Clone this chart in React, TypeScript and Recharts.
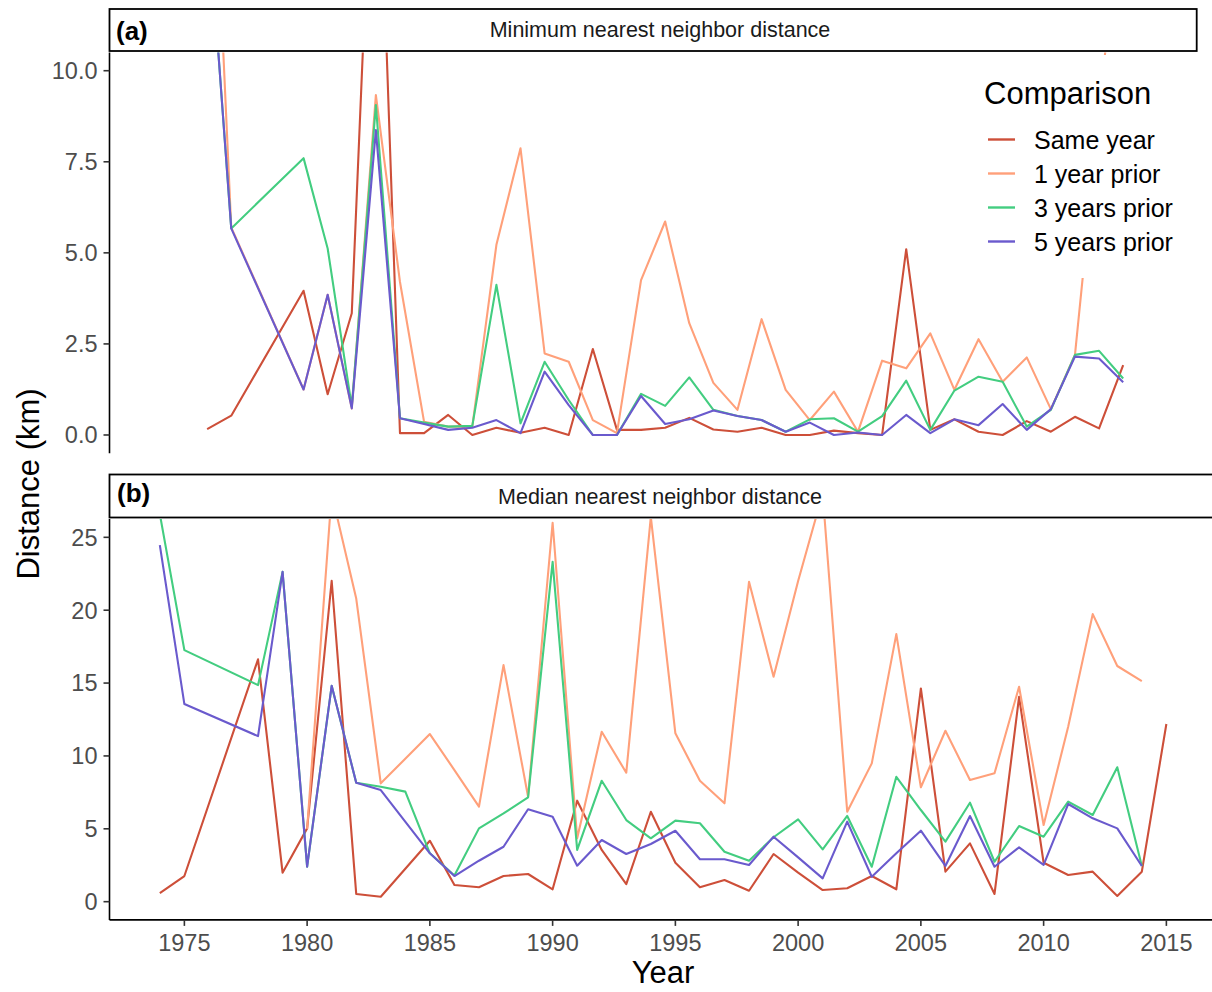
import React from 'react';
import { LineChart, Line, XAxis, YAxis } from 'recharts';

const FONT = '"Liberation Sans", Arial, Helvetica, sans-serif';

// Years on the shared x axis
const YEARS = [
  1974, 1975, 1976, 1977, 1978, 1979, 1980, 1981, 1982, 1983, 1984, 1985, 1986, 1987,
  1988, 1989, 1990, 1991, 1992, 1993, 1994, 1995, 1996, 1997, 1998, 1999, 2000, 2001,
  2002, 2003, 2004, 2005, 2006, 2007, 2008, 2009, 2010, 2011, 2012, 2013, 2014, 2015,
];

// (a) Minimum nearest neighbor distance (km)
const MIN_SAME = [null, null, 0.16, 0.53, null, null, 3.96, 1.12, 3.34, 19.0, 0.05, 0.05, 0.55, 0.0, 0.2, 0.06, 0.2, 0.0, 2.36, 0.14, 0.14, 0.2, 0.47, 0.15, 0.09, 0.2, 0.0, 0.0, 0.12, 0.05, 0.0, 5.1, 0.14, 0.43, 0.09, 0.0, 0.38, 0.09, 0.5, 0.18, 1.92, null];
const MIN_PRIOR1 = [null, null, 20.3, 5.7, null, null, 1.25, 3.85, 0.73, 9.33, 4.2, 0.36, 0.23, 0.23, 5.22, 7.87, 2.24, 2.01, 0.41, 0.05, 4.25, 5.86, 3.07, 1.43, 0.69, 3.18, 1.24, 0.41, 1.19, 0.09, 2.04, 1.83, 2.79, 1.24, 2.63, 1.46, 2.13, 0.71, 2.2, 8.8, 15.5, null];
const MIN_PRIOR3 = [null, null, 14.7, 5.67, null, null, 7.6, 5.12, 0.78, 9.06, 0.46, 0.34, 0.23, 0.25, 4.12, 0.32, 2.01, 0.96, 0.0, 0.0, 1.13, 0.8, 1.58, 0.69, 0.52, 0.41, 0.09, 0.43, 0.46, 0.09, 0.52, 1.49, 0.14, 1.22, 1.6, 1.46, 0.23, 0.69, 2.2, 2.31, 1.55, null];
const MIN_PRIOR5 = [null, null, 14.7, 5.67, null, null, 1.25, 3.85, 0.73, 8.37, 0.46, 0.3, 0.14, 0.2, 0.41, 0.05, 1.74, 0.82, 0.0, 0.0, 1.07, 0.3, 0.43, 0.67, 0.52, 0.41, 0.09, 0.34, 0.0, 0.07, 0.0, 0.55, 0.05, 0.43, 0.27, 0.85, 0.14, 0.71, 2.15, 2.1, 1.45, null];

// (b) Median nearest neighbor distance (km)
const MED_SAME = [0.58, 1.76, null, null, 16.63, 1.99, 5.03, 22.02, 0.53, 0.34, null, 4.18, 1.15, 0.99, 1.76, 1.9, 0.85, 6.93, 3.55, 1.21, 6.17, 2.67, 0.99, 1.49, 0.75, 3.27, 1.99, 0.8, 0.92, 1.76, 0.85, 14.63, 2.06, 4.0, 0.53, 14.06, 2.67, 1.83, 2.06, 0.39, 2.06, 12.19];
const MED_PRIOR1 = [null, null, null, null, null, null, 5.0, 28.0, 20.8, 8.12, null, 11.5, 9.03, 6.52, 16.23, 7.2, 26.0, 4.35, 11.66, 8.85, 26.4, 11.55, 8.3, 6.75, 21.95, 15.43, 22.0, 28.0, 6.17, 9.49, 18.36, 7.85, 11.73, 8.35, 8.81, 14.75, 5.26, 12.0, 19.73, 16.17, 15.14, null];
const MED_PRIOR3 = [26.6, 17.26, null, null, 14.86, 22.63, 2.4, 14.81, 8.16, 7.89, 7.55, 3.32, 1.8, 5.03, 6.06, 7.16, 23.32, 3.55, 8.3, 5.6, 4.35, 5.56, 5.38, 3.43, 2.81, 4.42, 5.65, 3.59, 5.88, 2.4, 8.57, 6.29, 4.12, 6.79, 2.74, 5.19, 4.46, 6.86, 5.95, 9.22, 2.45, null];
const MED_PRIOR5 = [24.46, 13.56, null, null, 11.36, 22.63, 2.4, 14.81, 8.16, 7.66, null, 3.32, 1.76, 2.81, 3.77, 6.34, 5.83, 2.47, 4.23, 3.27, 3.96, 4.87, 2.91, 2.91, 2.52, 4.46, 3.04, 1.6, 5.49, 1.71, 3.32, 4.87, 2.45, 5.88, 2.4, 3.73, 2.52, 6.7, 5.72, 5.03, 2.45, null];

const X_TICKS = [1975, 1980, 1985, 1990, 1995, 2000, 2005, 2010, 2015];
const Y_TICKS_A = [0, 2.5, 5, 7.5, 10];
const Y_TICKS_B = [0, 5, 10, 15, 20, 25];

const SERIES = [
  { key: 'same', name: 'Same year', color: '#CD4F39' },
  { key: 'p1', name: '1 year prior', color: '#FFA07A' },
  { key: 'p3', name: '3 years prior', color: '#43CD80' },
  { key: 'p5', name: '5 years prior', color: '#6A5ACD' },
];

const buildRows = (same, p1, p3, p5) =>
  YEARS.map((year, i) => ({ year, same: same[i], p1: p1[i], p3: p3[i], p5: p5[i] }));

const rowsA = buildRows(MIN_SAME, MIN_PRIOR1, MIN_PRIOR3, MIN_PRIOR5);
const rowsB = buildRows(MED_SAME, MED_PRIOR1, MED_PRIOR3, MED_PRIOR5);

const X_DOMAIN = [1971.95, 2017.05];
const tickStyle = { fill: '#4D4D4D', fontSize: 23.5, fontFamily: FONT };
const axisLineStyle = { stroke: '#000', strokeWidth: 1.6 };
const tickLineStyle = { stroke: '#333', strokeWidth: 1.6 };

const renderLines = () =>
  SERIES.map((s) => (
    <Line
      key={s.key}
      type="linear"
      dataKey={s.key}
      name={s.name}
      stroke={s.color}
      strokeWidth={2.1}
      strokeLinejoin="round"
      dot={false}
      activeDot={false}
      connectNulls
      isAnimationActive={false}
    />
  ));

export default function App() {
  return (
    <div
      style={{
        position: 'fixed',
        left: 0,
        top: 0,
        width: 1212,
        height: 992,
        overflow: 'hidden',
        background: '#fff',
        fontFamily: FONT,
      }}
    >
      {/* Panel (a) */}
      <div style={{ position: 'absolute', left: 0, top: 0 }}>
        <LineChart width={1212} height={470} data={rowsA} margin={{ top: 52.5, right: 15.3, bottom: 16.8, left: 0 }}>
          <XAxis type="number" dataKey="year" domain={X_DOMAIN} allowDataOverflow hide />
          <YAxis
            type="number"
            domain={[-0.5, 10.5]}
            ticks={Y_TICKS_A}
            interval={0}
            allowDataOverflow
            width={109.5}
            tickSize={6}
            tickMargin={6}
            tickFormatter={(v) => Number(v).toFixed(1)}
            tick={tickStyle}
            axisLine={axisLineStyle}
            tickLine={tickLineStyle}
          />
          {renderLines()}
        </LineChart>
      </div>

      {/* Panel (b) */}
      <div style={{ position: 'absolute', left: 0, top: 0 }}>
        <LineChart width={1240} height={992} data={rowsB} margin={{ top: 519.1, right: 23.3, bottom: 32.1, left: 0 }}>
          <XAxis
            type="number"
            dataKey="year"
            domain={X_DOMAIN}
            allowDataOverflow
            ticks={X_TICKS}
            interval={0}
            height={40}
            tickSize={6}
            tickMargin={8}
            tick={tickStyle}
            axisLine={axisLineStyle}
            tickLine={tickLineStyle}
          />
          <YAxis
            type="number"
            domain={[-1.25, 26.25]}
            ticks={Y_TICKS_B}
            interval={0}
            allowDataOverflow
            width={109.5}
            tickSize={6}
            tickMargin={6}
            tick={tickStyle}
            axisLine={axisLineStyle}
            tickLine={tickLineStyle}
          />
          {renderLines()}
        </LineChart>
      </div>

      {/* Strips, axis titles and legend */}
      <svg
        width={1212}
        height={992}
        style={{ position: 'absolute', left: 0, top: 0, pointerEvents: 'none' }}
        fontFamily={FONT}
      >
        <rect x={109.5} y={9} width={1087.2} height={42} fill="#fff" stroke="#000" strokeWidth={1.8} />
        <text x={116} y={40} fontSize={26} fontWeight="bold" fill="#000">(a)</text>
        <text x={660} y={36.6} fontSize={21.5} textAnchor="middle" fill="#1A1A1A">
          Minimum nearest neighbor distance
        </text>

        <rect x={109.5} y={474.5} width={1120} height={43} fill="#fff" stroke="#000" strokeWidth={1.8} />
        <text x={117} y={502} fontSize={26} fontWeight="bold" fill="#000">(b)</text>
        <text x={660} y={503.7} fontSize={21.5} textAnchor="middle" fill="#1A1A1A">
          Median nearest neighbor distance
        </text>

        <text x={663} y={983} fontSize={31} textAnchor="middle" fill="#000">Year</text>
        <text
          x={0}
          y={0}
          fontSize={31}
          textAnchor="middle"
          fill="#000"
          transform="translate(39 484) rotate(-90)"
        >
          Distance (km)
        </text>

        <rect x={970} y={55} width={216} height={223} fill="#fff" />
        <text x={984} y={103.5} fontSize={31} fill="#000">Comparison</text>
        {SERIES.map((s, i) => {
          const cy = 139.5 + i * 34;
          return (
            <g key={s.key}>
              <line x1={988} x2={1015} y1={cy} y2={cy} stroke={s.color} strokeWidth={2.4} />
              <text x={1034} y={cy + 9.5} fontSize={25} fill="#000">{s.name}</text>
            </g>
          );
        })}
      </svg>
    </div>
  );
}
